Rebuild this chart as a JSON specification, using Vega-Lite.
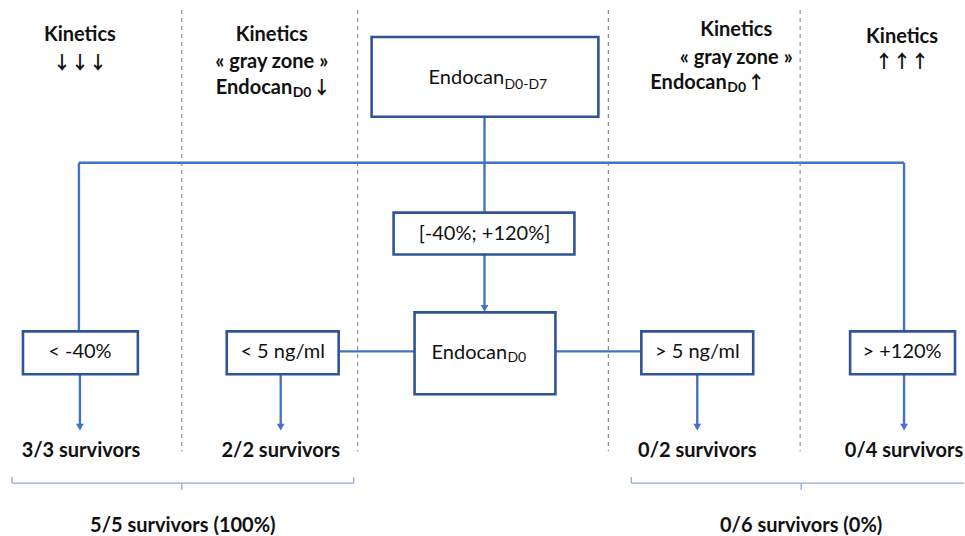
{
  "$schema": "https://vega.github.io/schema/vega-lite/v6.json",
  "width": 965,
  "height": 536,
  "autosize": {"type": "fit", "contains": "padding"},
  "padding": 0,
  "background": "white",
  "config": {"view": {"stroke": null}, "font": "Lato"},
  "datasets": {
    "dashed": [
      {"x": 182, "y": 10, "y2": 452},
      {"x": 358, "y": 10, "y2": 452},
      {"x": 609, "y": 10, "y2": 452},
      {"x": 801, "y": 10, "y2": 452}
    ],
    "lines": [
      {"x": 485, "y": 117, "x2": 485, "y2": 163},
      {"x": 79, "y": 163, "x2": 905, "y2": 163},
      {"x": 79, "y": 163, "x2": 79, "y2": 332},
      {"x": 905, "y": 163, "x2": 905, "y2": 332},
      {"x": 485, "y": 163, "x2": 485, "y2": 213},
      {"x": 485, "y": 255, "x2": 485, "y2": 306},
      {"x": 339, "y": 352, "x2": 415, "y2": 352},
      {"x": 556, "y": 352, "x2": 642, "y2": 352},
      {"x": 80, "y": 375, "x2": 80, "y2": 426},
      {"x": 281, "y": 375, "x2": 281, "y2": 426},
      {"x": 698, "y": 375, "x2": 698, "y2": 426},
      {"x": 905, "y": 375, "x2": 905, "y2": 426}
    ],
    "arrows": [
      {"x": 485, "y": 309},
      {"x": 80, "y": 428},
      {"x": 281, "y": 428},
      {"x": 698, "y": 428},
      {"x": 905, "y": 428}
    ],
    "brackets": [
      {"x": 12, "y": 484, "x2": 354, "y2": 484},
      {"x": 12, "y": 478, "x2": 12, "y2": 484},
      {"x": 354, "y": 478, "x2": 354, "y2": 484},
      {"x": 182, "y": 484, "x2": 182, "y2": 491},
      {"x": 632, "y": 484, "x2": 965, "y2": 484},
      {"x": 632, "y": 478, "x2": 632, "y2": 484},
      {"x": 802, "y": 484, "x2": 802, "y2": 491}
    ],
    "boxes": [
      {"x": 372, "y": 37, "x2": 599, "y2": 117},
      {"x": 394, "y": 213, "x2": 575, "y2": 255},
      {"x": 415, "y": 313, "x2": 556, "y2": 395},
      {"x": 23, "y": 332, "x2": 138, "y2": 375},
      {"x": 227, "y": 332, "x2": 339, "y2": 375},
      {"x": 642, "y": 332, "x2": 754, "y2": 375},
      {"x": 851, "y": 332, "x2": 956, "y2": 375}
    ],
    "boldCenter": [
      {"x": 80, "y": 35, "t": "Kinetics"},
      {"x": 272, "y": 35, "t": "Kinetics"},
      {"x": 272, "y": 62, "t": "« gray zone »"},
      {"x": 737, "y": 30, "t": "Kinetics"},
      {"x": 737, "y": 58, "t": "« gray zone »"},
      {"x": 903, "y": 37, "t": "Kinetics"},
      {"x": 81, "y": 452, "t": "3/3 survivors"},
      {"x": 281, "y": 452, "t": "2/2 survivors"},
      {"x": 698, "y": 452, "t": "0/2 survivors"},
      {"x": 905, "y": 452, "t": "0/4 survivors"},
      {"x": 183, "y": 527, "t": "5/5 survivors (100%)"},
      {"x": 802, "y": 527, "t": "0/6 survivors (0%)"}
    ],
    "arrowText": [
      {"x": 80, "y": 64, "t": "↓↓↓"},
      {"x": 903, "y": 63, "t": "↑↑↑"},
      {"x": 322, "y": 89, "t": "↓"},
      {"x": 757, "y": 84, "t": "↑"}
    ],
    "boldLeft": [
      {"x": 216, "y": 88, "t": "Endocan"},
      {"x": 651, "y": 83, "t": "Endocan"}
    ],
    "boldSub": [
      {"x": 293, "y": 93, "t": "D0"},
      {"x": 728, "y": 88, "t": "D0"}
    ],
    "regCenter": [
      {"x": 485, "y": 234, "t": "[-40%; +120%]"},
      {"x": 80, "y": 353, "t": "< -40%"},
      {"x": 283, "y": 353, "t": "< 5 ng/ml"},
      {"x": 698, "y": 353, "t": "> 5 ng/ml"},
      {"x": 903, "y": 353, "t": "> +120%"}
    ],
    "regLeft": [
      {"x": 429, "y": 78, "t": "Endocan"},
      {"x": 432, "y": 354, "t": "Endocan"}
    ],
    "regSub": [
      {"x": 505, "y": 85, "t": "D0-D7"},
      {"x": 508, "y": 359, "t": "D0"}
    ]
  },
  "layer": [
    {
      "data": {"name": "dashed"},
      "mark": {"type": "rule", "color": "#8c8c8c", "strokeWidth": 1.2, "strokeDash": [4, 4]},
      "encoding": {
        "x": {"field": "x", "type": "quantitative", "scale": {"domain": [0, 965], "nice": false, "zero": false}, "axis": null},
        "y": {"field": "y", "type": "quantitative", "scale": {"domain": [0, 536], "nice": false, "zero": false, "reverse": true}, "axis": null},
        "y2": {"field": "y2"}
      }
    },
    {
      "data": {"name": "brackets"},
      "mark": {"type": "rule", "color": "#8faadc", "strokeWidth": 1.3},
      "encoding": {
        "x": {"field": "x", "type": "quantitative"},
        "y": {"field": "y", "type": "quantitative"},
        "x2": {"field": "x2"},
        "y2": {"field": "y2"}
      }
    },
    {
      "data": {"name": "lines"},
      "mark": {"type": "rule", "color": "#4472c4", "strokeWidth": 2.4},
      "encoding": {
        "x": {"field": "x", "type": "quantitative"},
        "y": {"field": "y", "type": "quantitative"},
        "x2": {"field": "x2"},
        "y2": {"field": "y2"}
      }
    },
    {
      "data": {"name": "arrows"},
      "mark": {"type": "point", "shape": "triangle-down", "filled": true, "color": "#4472c4", "size": 60, "opacity": 1},
      "encoding": {
        "x": {"field": "x", "type": "quantitative"},
        "y": {"field": "y", "type": "quantitative"}
      }
    },
    {
      "data": {"name": "boxes"},
      "mark": {"type": "rect", "fill": "white", "stroke": "#2f5597", "strokeWidth": 2.6},
      "encoding": {
        "x": {"field": "x", "type": "quantitative"},
        "y": {"field": "y", "type": "quantitative"},
        "x2": {"field": "x2"},
        "y2": {"field": "y2"}
      }
    },
    {
      "data": {"name": "boldCenter"},
      "mark": {"type": "text", "font": "Lato", "fontWeight": "bold", "fontSize": 20, "align": "center", "baseline": "middle", "color": "#111"},
      "encoding": {
        "x": {"field": "x", "type": "quantitative"},
        "y": {"field": "y", "type": "quantitative"},
        "text": {"field": "t"}
      }
    },
    {
      "data": {"name": "arrowText"},
      "mark": {"type": "text", "font": "Noto Sans CJK SC", "fontWeight": "bold", "fontSize": 18, "align": "center", "baseline": "middle", "color": "#111"},
      "encoding": {
        "x": {"field": "x", "type": "quantitative"},
        "y": {"field": "y", "type": "quantitative"},
        "text": {"field": "t"}
      }
    },
    {
      "data": {"name": "boldLeft"},
      "mark": {"type": "text", "font": "Lato", "fontWeight": "bold", "fontSize": 20, "align": "left", "baseline": "middle", "color": "#111"},
      "encoding": {
        "x": {"field": "x", "type": "quantitative"},
        "y": {"field": "y", "type": "quantitative"},
        "text": {"field": "t"}
      }
    },
    {
      "data": {"name": "boldSub"},
      "mark": {"type": "text", "font": "Lato", "fontWeight": "bold", "fontSize": 14, "align": "left", "baseline": "middle", "color": "#111"},
      "encoding": {
        "x": {"field": "x", "type": "quantitative"},
        "y": {"field": "y", "type": "quantitative"},
        "text": {"field": "t"}
      }
    },
    {
      "data": {"name": "regCenter"},
      "mark": {"type": "text", "font": "Lato", "fontSize": 20, "align": "center", "baseline": "middle", "color": "#111"},
      "encoding": {
        "x": {"field": "x", "type": "quantitative"},
        "y": {"field": "y", "type": "quantitative"},
        "text": {"field": "t"}
      }
    },
    {
      "data": {"name": "regLeft"},
      "mark": {"type": "text", "font": "Lato", "fontSize": 20, "align": "left", "baseline": "middle", "color": "#111"},
      "encoding": {
        "x": {"field": "x", "type": "quantitative"},
        "y": {"field": "y", "type": "quantitative"},
        "text": {"field": "t"}
      }
    },
    {
      "data": {"name": "regSub"},
      "mark": {"type": "text", "font": "Lato", "fontSize": 14, "align": "left", "baseline": "middle", "color": "#111"},
      "encoding": {
        "x": {"field": "x", "type": "quantitative"},
        "y": {"field": "y", "type": "quantitative"},
        "text": {"field": "t"}
      }
    }
  ]
}
